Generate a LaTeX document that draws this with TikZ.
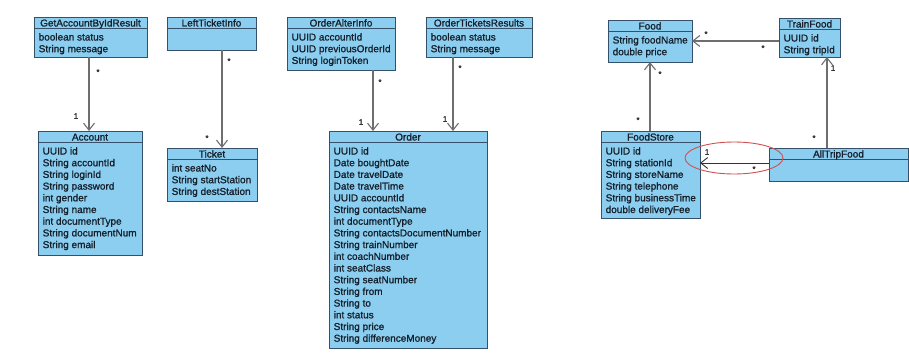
\documentclass[tikz,border=0pt]{standalone}
\usepackage{fontspec}
\setmainfont{Liberation Sans}
\newfontfamily\classfont{Liberation Sans}[FakeBold=1.2]
\usetikzlibrary{arrows.meta}

\definecolor{classfill}{RGB}{140,206,240}
\definecolor{classline}{RGB}{52,80,106}
\definecolor{classtext}{RGB}{21,32,43}
\definecolor{assocgrey}{RGB}{110,110,110}
\definecolor{markred}{RGB}{208,80,80}

\tikzset{
  classbox/.style={draw=classline, fill=classfill, line width=0.9pt, inner sep=0pt, outer sep=0pt},
  sepline/.style={draw=classline, line width=0.9pt},
  titletext/.style={font=\classfont\fontsize{10}{12}\selectfont, text=classtext, inner sep=0pt, anchor=base},
  attrtext/.style={font=\classfont\fontsize{10}{12}\selectfont, text=classtext, inner sep=0pt, anchor=base west},
  assoc/.style={draw=assocgrey, line width=1.1pt, -{Straight Barb[length=7pt,width=11pt]}},
  assocdark/.style={draw=black!80, line width=0.9pt, -{Straight Barb[length=7pt,width=11pt]}},
  mult/.style={font=\classfont\fontsize{8}{9}\selectfont, text=black!80, inner sep=0pt},
}

% \umlclass{name}{left}{top}{right}{bottom}{title}{attribute list}
\newcommand\umlclass[7]{%
  \node[classbox, anchor=north west, minimum width=#4pt-#2pt, minimum height=#5pt-#3pt] (#1) at (#2,#3) {};
  \draw[sepline] ([yshift=-11.5pt]#1.north west) -- ([yshift=-11.5pt]#1.north east);
  \node[titletext] (#1-title) at ([yshift=-9.5pt]#1.north) {#6};
  \foreach \row [count=\k] in {#7}{%
    \node[attrtext] (#1-\k) at ([xshift=4.5pt, yshift={-23.5pt-11.7pt*(\k-1)}]#1.north west) {\row};
  }%
}
% class without attributes
\newcommand\umlemptyclass[6]{%
  \node[classbox, anchor=north west, minimum width=#4pt-#2pt, minimum height=#5pt-#3pt] (#1) at (#2,#3) {};
  \draw[sepline] ([yshift=-11.5pt]#1.north west) -- ([yshift=-11.5pt]#1.north east);
  \node[titletext] (#1-title) at ([yshift=-9.5pt]#1.north) {#6};
}

\begin{document}
\begin{tikzpicture}[x=1pt, y=-1pt]
\path[use as bounding box] (0,0) rectangle (909,361);

% ---- classes ----
\umlclass{gar}{34}{17}{147}{57}{GetAccountByIdResult}{boolean status, String message}
\umlemptyclass{lti}{167}{17}{256}{50}{LeftTicketInfo}
\umlclass{oai}{287}{17}{395}{70}{OrderAlterInfo}{UUID accountId, UUID previousOrderId, String loginToken}
\umlclass{otr}{426}{17}{532}{57}{OrderTicketsResults}{boolean status, String message}

\umlclass{acc}{38}{131}{142}{255}{Account}{UUID id, String accountId, String loginId, String password, int gender, String name, int documentType, String documentNum, String email}
\umlclass{tkt}{167}{148}{257}{201}{Ticket}{int seatNo, String startStation, String destStation}
\umlclass{ord}{329}{131}{487}{348}{Order}{UUID id, Date boughtDate, Date travelDate, Date travelTime, UUID accountId, String contactsName, int documentType, String contactsDocumentNumber, String trainNumber, int coachNumber, int seatClass, String seatNumber, String from, String to, int status, String price, String differenceMoney}

\umlclass{food}{608}{20}{692}{62}{Food}{String foodName, double price}
\umlclass{tf}{779}{18}{840}{57}{TrainFood}{UUID id, String tripId}
\umlclass{fs}{601}{131}{700}{218}{FoodStore}{UUID id, String stationId, String storeName, String telephone, String businessTime, double deliveryFee}
\node[classbox, anchor=north west, minimum width=139pt, minimum height=33pt] (atf) at (769,148) {};
\draw[sepline] ([yshift=-11.5pt]atf.north west) -- ([yshift=-11.5pt]atf.north east);
\node[titletext] (atf-title) at ([yshift=-9.5pt]atf.north) {AllTripFood};

% ---- associations ----
\draw[assoc] ([xshift=-1.5pt]gar.south) coordinate (g1) -- (g1 |- acc.north);
\draw[assoc] ([xshift=10.5pt]lti.south) coordinate (l1) -- (l1 |- tkt.north);
\draw[assoc] ([xshift=32pt]oai.south) coordinate (o1) -- (o1 |- ord.north);
\draw[assoc] ([xshift=-26pt]otr.south) coordinate (o2) -- (o2 |- ord.north);
\draw[assoc] ([yshift=-3.5pt]tf.west) coordinate (t1) -- (t1 -| food.east);
\draw[assoc] ([xshift=-0.5pt]fs.north) coordinate (f1) -- (f1 |- food.south);
\draw[assoc] ([xshift=-11.5pt]atf.north) coordinate (a1) -- (a1 |- tf.south);
\draw[assocdark] ([yshift=1.5pt]atf.west) coordinate (a2) -- (a2 -| fs.east);

% ---- multiplicities ----
\node[mult] (m1) at (98,72) {*};
\node[mult] (m2) at (76,116) {1};
\node[mult] (m3) at (229,61) {*};
\node[mult] (m4) at (207,138) {*};
\node[mult] (m5) at (380,82) {*};
\node[mult] (m6) at (361,122) {1};
\node[mult] (m7) at (460,68) {*};
\node[mult] (m8) at (445,119) {1};
\node[mult] (m9) at (706,34) {*};
\node[mult] (m10) at (763,48) {*};
\node[mult] (m11) at (660,74) {*};
\node[mult] (m12) at (638,120) {*};
\node[mult] (m13) at (833,68) {1};
\node[mult] (m14) at (814,138) {*};
\node[mult] (m15) at (707,152) {1};
\node[mult] (m16) at (754,169) {*};

% ---- highlight ----
\draw[markred, line width=0.9pt] (734,158) ellipse [x radius=49pt, y radius=16pt];
\end{tikzpicture}
\end{document}
